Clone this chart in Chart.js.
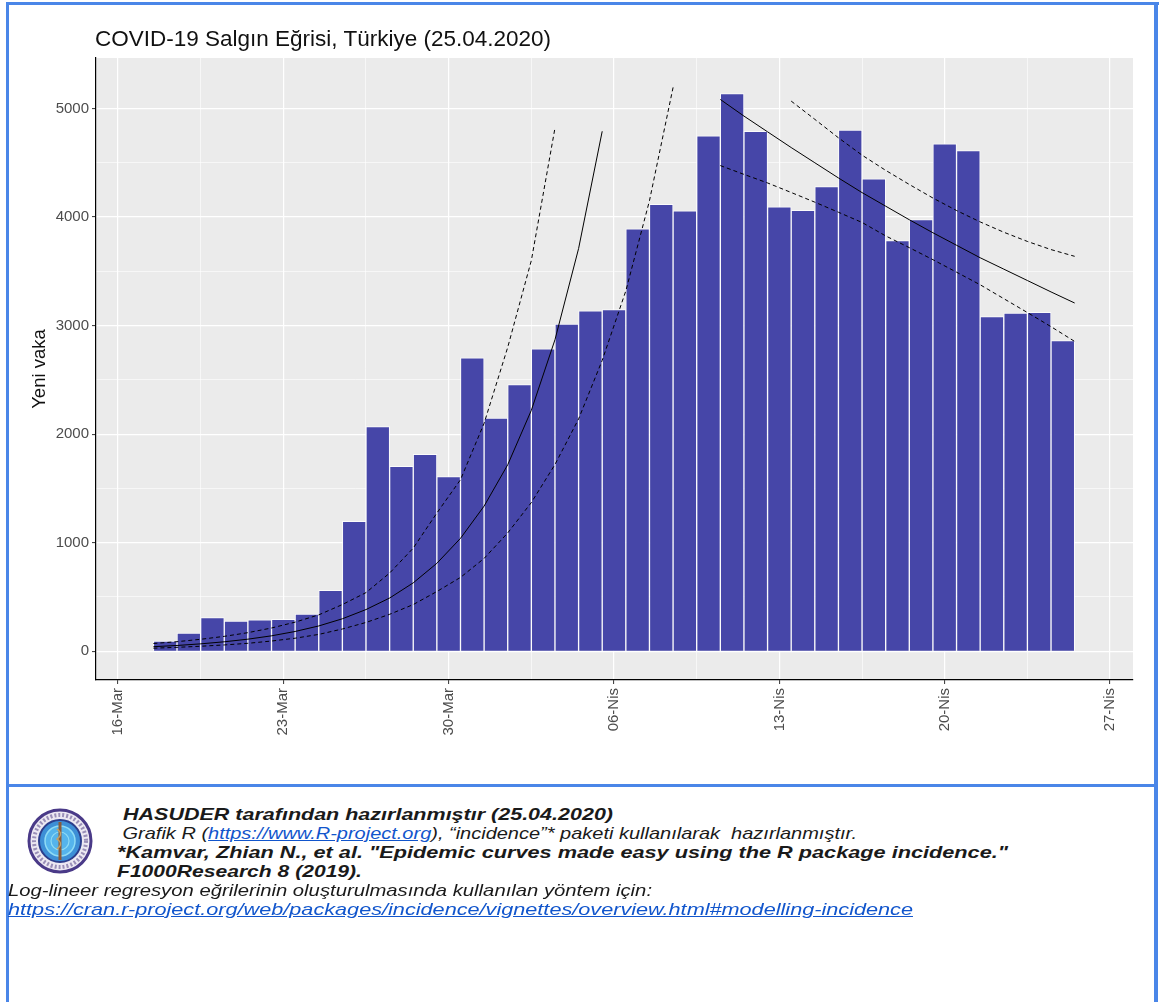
<!DOCTYPE html>
<html lang="tr">
<head>
<meta charset="utf-8">
<title>COVID-19 Salgın Eğrisi, Türkiye</title>
<script src="https://cdn.jsdelivr.net/npm/chart.js@4.4.1/dist/chart.umd.min.js"></script>
<style>
  html, body { margin: 0; padding: 0; background: #ffffff; }
  body { width: 1159px; height: 1002px; position: relative; overflow: hidden;
         font-family: "Liberation Sans", Arial, sans-serif; }
  #c { position: absolute; left: 0; top: 0; }
  .frame { position: absolute; background: #4a86e8; }
  #title { position: absolute; left: 95px; top: 26px; font-size: 22.5px; color: #111; white-space: nowrap; }
  .note { position: absolute; font-size: 17px; line-height: 19px; color: #1a1a1a; font-style: italic;
          white-space: pre; transform-origin: 0 50%; }
  .b { font-weight: bold; }
  a { color: #1155cc; text-decoration: underline; }
  #logo { position: absolute; left: 26px; top: 807px; }
</style>
</head>
<body>
<canvas id="c" width="1159" height="785"></canvas>
<div id="title">COVID-19 Salgın Eğrisi, Türkiye (25.04.2020)</div>

<div class="frame" style="left:6px; top:2px; width:3px; height:1000px;"></div>
<div class="frame" style="left:6px; top:2px; width:1153px; height:3px;"></div>
<div class="frame" style="left:1154px; top:2px; width:4px; height:1000px;"></div>
<div class="frame" style="left:6px; top:784px; width:1152px; height:3px;"></div>

<svg id="logo" width="68" height="68" viewBox="0 0 68 68">
  <circle cx="34" cy="34" r="31" fill="#ece8f2" stroke="#4a3a88" stroke-width="3"/>
  <circle cx="34" cy="34" r="26" fill="none" stroke="#9a8fb8" stroke-width="4" stroke-dasharray="2 2"/>
  <circle cx="34" cy="34" r="21" fill="#3d8fd6" stroke="#2b3d8c" stroke-width="2"/>
  <circle cx="34" cy="34" r="15" fill="#55b4ec" stroke="#8fdcf5" stroke-width="1.5"/>
  <circle cx="34" cy="34" r="9" fill="none" stroke="#8fdcf5" stroke-width="1.2"/>
  <line x1="34" y1="15" x2="34" y2="53" stroke="#8a5a3a" stroke-width="3"/>
  <path d="M31 22 Q38 27 31 32 Q38 37 31 42" fill="none" stroke="#c9a060" stroke-width="1.3"/>
</svg>

<div class="note b" data-w="496" style="left:117px; top:805px;"> HASUDER tarafından hazırlanmıştır (25.04.2020)</div>
<div class="note" data-w="740" style="left:117px; top:824px;"> Grafik R (<a href="https://www.R-project.org">https://www.R-project.org</a>), “incidence”* paketi kullanılarak  hazırlanmıştır.</div>
<div class="note b" data-w="891" style="left:117px; top:843px;">*Kamvar, Zhian N., et al. "Epidemic curves made easy using the R package incidence."</div>
<div class="note b" data-w="245" style="left:117px; top:862px;">F1000Research 8 (2019).</div>
<div class="note" data-w="644" style="left:8px; top:881px;">Log-lineer regresyon eğrilerinin oluşturulmasında kullanılan yöntem için:</div>
<div class="note" data-w="905" style="left:8px; top:900px;"><a href="https://cran.r-project.org/web/packages/incidence/vignettes/overview.html#modelling-incidence">https://cran.r-project.org/web/packages/incidence/vignettes/overview.html#modelling-incidence</a></div>

<script>
// ---------- DATA ----------
const originDate = '2020-03-16';

const barDates = [
  '2020-03-18','2020-03-19','2020-03-20','2020-03-21','2020-03-22','2020-03-23','2020-03-24',
  '2020-03-25','2020-03-26','2020-03-27','2020-03-28','2020-03-29','2020-03-30','2020-03-31',
  '2020-04-01','2020-04-02','2020-04-03','2020-04-04','2020-04-05','2020-04-06','2020-04-07',
  '2020-04-08','2020-04-09','2020-04-10','2020-04-11','2020-04-12','2020-04-13','2020-04-14',
  '2020-04-15','2020-04-16','2020-04-17','2020-04-18','2020-04-19','2020-04-20','2020-04-21',
  '2020-04-22','2020-04-23','2020-04-24','2020-04-25'
];
const newCases = [
  93, 168, 311, 277, 289, 293, 343,
  561, 1196, 2069, 1704, 1815, 1610, 2704,
  2148, 2456, 2786, 3013, 3135, 3148, 3892,
  4117, 4056, 4747, 5138, 4789, 4093, 4062,
  4281, 4801, 4353, 3783, 3977, 4674, 4611,
  3083, 3116, 3122, 2861
];

// log-linear fits (daily points, starting at the left edge of the given day)
const growthStart = '2020-03-18';
const growthFit   = [42, 53, 68, 87, 111, 142, 182, 233, 299, 384, 490, 630, 810, 1040, 1337, 1718, 2220, 2870, 3710, 4790];
const growthUpperStart = '2020-03-18';
const growthUpper = [71, 88, 110, 137, 171, 214, 268, 335, 430, 540, 720, 950, 1273, 1580, 2100, 2800, 3600, 4820];
const growthLowerStart = '2020-03-18';
const growthLower = [28, 36, 46, 58, 73, 94, 120, 155, 205, 265, 340, 430, 550, 680, 855, 1090, 1370, 1720, 2140, 2680, 3320, 4150, 5194];

const declineStart = '2020-04-11';
const declineFit   = [5083, 4930, 4785, 4640, 4500, 4360, 4225, 4100, 3975, 3855, 3740, 3625, 3520, 3415, 3310, 3208];
const declineUpperStart = '2020-04-14';
const declineUpper = [5068, 4900, 4730, 4570, 4430, 4300, 4175, 4060, 3955, 3860, 3775, 3700, 3638];
const declineLowerStart = '2020-04-11';
const declineLower = [4474, 4393, 4314, 4226, 4137, 4044, 3950, 3826, 3718, 3607, 3492, 3376, 3248, 3120, 2990, 2854];

const xTickDates  = ['2020-03-16','2020-03-23','2020-03-30','2020-04-06','2020-04-13','2020-04-20','2020-04-27'];
const xTickLabels = ['16-Mar','23-Mar','30-Mar','06-Nis','13-Nis','20-Nis','27-Nis'];
const yTicks = [0, 1000, 2000, 3000, 4000, 5000];
const yTitle = 'Yeni vaka';

// ---------- HELPERS ----------
function dayOffset(s) {
  const [y, m, d] = s.split('-').map(Number);
  const [oy, om, od] = originDate.split('-').map(Number);
  return (Date.UTC(y, m - 1, d) - Date.UTC(oy, om - 1, od)) / 86400000;
}
function fitPoints(start, vals) {
  const s = dayOffset(start) - 0.5;
  return vals.map((v, i) => ({ x: s + i, y: v }));
}

const majorX = xTickDates.map(dayOffset);
const minorX = majorX.slice(0, -1).map((v, i) => (v + majorX[i + 1]) / 2);
const allX = majorX.concat(minorX).sort((a, b) => a - b);
const minorY = yTicks.map(v => v + 500);
const allY = yTicks.concat(minorY).sort((a, b) => a - b);

Chart.defaults.font.family = '"Liberation Sans", Arial, sans-serif';

const panelBg = {
  id: 'panelBg',
  beforeDraw(chart) {
    const a = chart.chartArea, c = chart.ctx;
    c.save();
    c.fillStyle = '#ebebeb';
    c.fillRect(a.left, a.top, a.right - a.left, a.bottom - a.top);
    c.restore();
  }
};
const yTitlePlugin = {
  id: 'yTitle',
  afterDraw(chart) {
    const a = chart.chartArea, c = chart.ctx;
    c.save();
    c.translate(40, (a.top + a.bottom) / 2);
    c.rotate(-Math.PI / 2);
    c.textAlign = 'center';
    c.textBaseline = 'middle';
    c.fillStyle = '#111';
    c.font = '18.5px "Liberation Sans", Arial, sans-serif';
    c.fillText(yTitle, 0, 0);
    c.restore();
  }
};

const lineBase = { type: 'line', borderColor: '#000', borderWidth: 1, pointRadius: 0, tension: 0, fill: false, order: 0 };
const dash = [4, 3];

new Chart(document.getElementById('c'), {
  type: 'bar',
  data: {
    datasets: [
      { type: 'bar', data: barDates.map((d, i) => ({ x: dayOffset(d), y: newCases[i] })),
        backgroundColor: '#4646a8', borderColor: 'rgba(255,255,255,0.8)', borderWidth: 1,
        barPercentage: 1, categoryPercentage: 1, order: 2 },
      { ...lineBase, data: fitPoints(growthStart, growthFit) },
      { ...lineBase, data: fitPoints(growthUpperStart, growthUpper), borderDash: dash },
      { ...lineBase, data: fitPoints(growthLowerStart, growthLower), borderDash: dash },
      { ...lineBase, data: fitPoints(declineStart, declineFit) },
      { ...lineBase, data: fitPoints(declineUpperStart, declineUpper), borderDash: dash },
      { ...lineBase, data: fitPoints(declineLowerStart, declineLower), borderDash: dash }
    ]
  },
  options: {
    responsive: false,
    animation: false,
    layout: { padding: { top: 58, right: 26, left: 0, bottom: 0 } },
    plugins: { legend: { display: false }, tooltip: { enabled: false }, title: { display: false } },
    scales: {
      x: {
        type: 'linear', min: -0.93, max: 42.97, offset: false,
        afterFit(s) { s.height = 105; },
        afterBuildTicks(s) { s.ticks = allX.map(v => ({ value: v })); },
        ticks: {
          autoSkip: false, minRotation: 90, maxRotation: 90, padding: 4,
          color: '#4d4d4d', font: { size: 15 },
          callback(v) { const i = majorX.indexOf(v); return i >= 0 ? xTickLabels[i] : ''; }
        },
        grid: {
          offset: false,
          color: '#ffffff',
          lineWidth: (ctx) => (ctx.tick && majorX.includes(ctx.tick.value)) ? 1.2 : 0.6,
          tickLength: 4,
          tickColor: (ctx) => (ctx.tick && majorX.includes(ctx.tick.value)) ? '#333333' : 'rgba(0,0,0,0)',
          tickWidth: 1
        },
        border: { display: true, color: '#000', width: 1.2 }
      },
      y: {
        type: 'linear', min: -265, max: 5465,
        afterFit(s) { s.width = 96; },
        afterBuildTicks(s) { s.ticks = allY.map(v => ({ value: v })); },
        ticks: {
          autoSkip: false, padding: 3, color: '#4d4d4d', font: { size: 15 },
          callback(v) { return yTicks.includes(v) ? String(v) : ''; }
        },
        grid: {
          offset: false,
          color: '#ffffff',
          lineWidth: (ctx) => (ctx.tick && yTicks.includes(ctx.tick.value)) ? 1.2 : 0.6,
          tickLength: 4,
          tickColor: (ctx) => (ctx.tick && yTicks.includes(ctx.tick.value)) ? '#333333' : 'rgba(0,0,0,0)',
          tickWidth: 1
        },
        border: { display: true, color: '#000', width: 1.2 }
      }
    }
  },
  plugins: [panelBg, yTitlePlugin]
});

// stretch footnote lines to the widths they take in the reference
document.querySelectorAll('.note').forEach(el => {
  const target = parseFloat(el.dataset.w);
  const w = el.getBoundingClientRect().width;
  if (w > 0) el.style.transform = 'scaleX(' + (target / w).toFixed(4) + ')';
});
</script>
</body>
</html>
